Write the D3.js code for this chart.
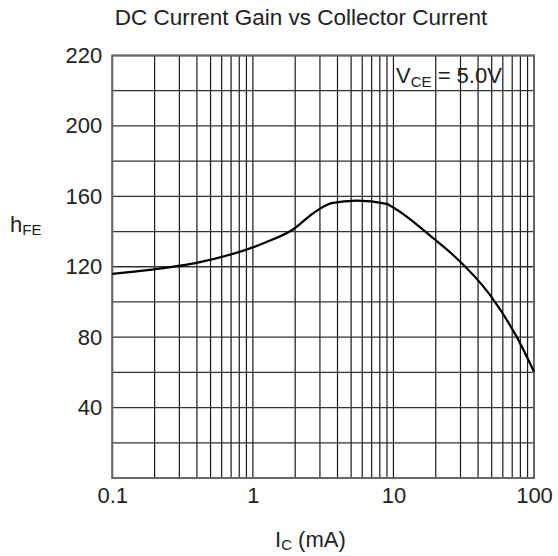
<!DOCTYPE html>
<html><head><meta charset="utf-8">
<script src="https://cdn.jsdelivr.net/npm/d3@7"></script>
<style>body{margin:0;background:#fff}svg{display:block}</style></head>
<body><svg id="c" width="558" height="556"></svg>
<script>
const icValues=[0.1,0.185,0.42,1.25,1.94,2.69,3.63,5.47,8.93,9.7,19.2,26.6,48.6,75.2,100];
const hfeValues=[116,118.2,122.6,134,141.3,150.4,156.1,157.6,155.7,154.2,136.2,126.7,104,80.3,60.4];
const xTickValues=[0.1,1,10,100];
const xTickLabels=["0.1","1","10","100"];
const yTickValues=[40,80,120,160,200,240];
const yTickLabels=["40","80","120","160","200","220"];
const yGridValues=d3.range(0,241,20);

const font='"Liberation Sans", Arial, sans-serif';
const svg=d3.select("#c");
const L=112.3,R=534,T=55.5,B=478;
const x=d3.scaleLog().domain([0.1,100]).range([L,R]);
const y=d3.scaleLinear().domain([0,240]).range([B,T]);

const xGrid=[];
[0.1,1,10].forEach(d=>{for(let k=1;k<10;k++)xGrid.push(d*k);});
xGrid.push(100);

const g=svg.append("g");
g.selectAll("line.v").data(xGrid).join("line").attr("class","v")
 .attr("x1",d=>x(d)).attr("x2",d=>x(d)).attr("y1",T).attr("y2",B)
 .attr("stroke","#1a1a1a").attr("stroke-width",1.2);
g.selectAll("line.h").data(yGridValues).join("line").attr("class","h")
 .attr("x1",L).attr("x2",R).attr("y1",d=>y(d)).attr("y2",d=>y(d))
 .attr("stroke","#333").attr("stroke-width",1.3);
g.append("rect").attr("x",L).attr("y",T).attr("width",R-L).attr("height",B-T)
 .attr("fill","none").attr("stroke","#666").attr("stroke-width",2);

const yAxis=d3.axisLeft(y).tickValues(yTickValues).tickSize(0).tickPadding(10)
 .tickFormat((d,i)=>yTickLabels[i]);
const ya=svg.append("g").attr("transform",`translate(${L},0)`).call(yAxis);
ya.select(".domain").remove();
ya.selectAll("text").attr("font-family",font).attr("font-size",22).attr("fill","#222");

const xAxis=d3.axisBottom(x).tickValues(xTickValues).tickSize(0).tickPadding(9)
 .tickFormat((d,i)=>xTickLabels[i]);
const xa=svg.append("g").attr("transform",`translate(0,${B})`).call(xAxis);
xa.select(".domain").remove();
xa.selectAll("text").attr("font-family",font).attr("font-size",22).attr("fill","#222");

const pts=icValues.map((v,i)=>[v,hfeValues[i]]);
svg.append("path").datum(pts)
 .attr("d",d3.line().x(d=>x(d[0])).y(d=>y(d[1])).curve(d3.curveMonotoneX))
 .attr("fill","none").attr("stroke","#000").attr("stroke-width",2.2).attr("stroke-linejoin","round");

svg.append("text").attr("x",301).attr("y",25).attr("text-anchor","middle")
 .attr("font-family",font).attr("font-size",22.5).attr("fill","#222")
 .text("DC Current Gain vs Collector Current");

const yl=svg.append("text").attr("x",10).attr("y",232).attr("font-family",font).attr("font-size",22).attr("fill","#222");
yl.append("tspan").text("h");
yl.append("tspan").attr("font-size",15).attr("dy",3).text("FE");

const xl=svg.append("text").attr("x",275).attr("y",547).attr("font-family",font).attr("font-size",22).attr("fill","#222");
xl.append("tspan").text("I");
xl.append("tspan").attr("font-size",15).attr("dy",3).text("C");
xl.append("tspan").attr("dy",-3).text(" (mA)");

const vl=svg.append("text").attr("x",396).attr("y",83).attr("font-family",font).attr("font-size",22).attr("fill","#222");
vl.append("tspan").text("V");
vl.append("tspan").attr("font-size",15).attr("dy",4).text("CE");
vl.append("tspan").attr("dy",-4).text(" = 5.0V");
</script></body></html>
